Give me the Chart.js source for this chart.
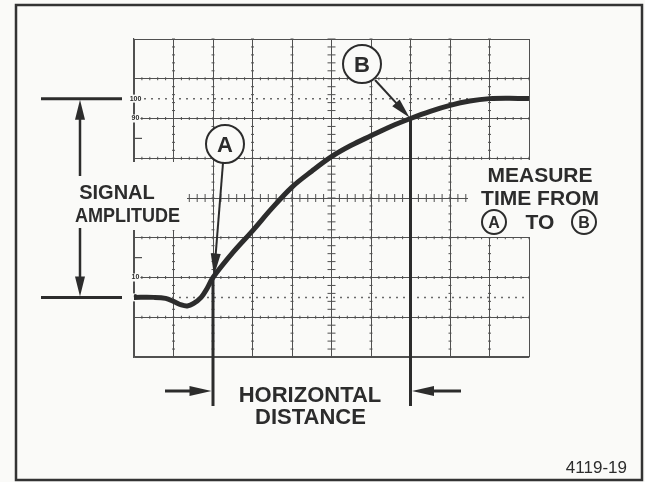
<!DOCTYPE html>
<html>
<head>
<meta charset="utf-8">
<script src="https://cdn.jsdelivr.net/npm/chart.js@4.4.1/dist/chart.umd.min.js"></script>
<style>
  html, body { margin: 0; padding: 0; background: #fafaf8; }
  canvas { display: block; }
</style>
</head>
<body>
<canvas id="scope" width="645" height="482"></canvas>
<script>
// trace: time in divisions, amplitude in % of the step
const timeDiv = [0, 0.5, 0.8, 1.0, 1.2, 1.35, 1.5, 1.7, 1.85, 2.0, 2.5, 3.0, 3.5, 4.0, 4.5, 5.0, 5.5, 6.0, 6.5, 7.0, 7.5, 8.0, 8.5, 9.0, 9.5, 10]
const amplitudePct = [0, 0, -0.5, -2, -3.8, -4.3, -3.2, 0, 4.5, 10, 22.5, 33.5, 45, 55.5, 63.5, 70.8, 76.5, 81.3, 86, 90, 93.6, 96.6, 98.8, 100, 100.2, 100]

// graticule: 10 x 8 divisions, 20% per vertical division
const ampGridTicks = [-30, -10, 10, 30, 50, 70, 90, 110, 130]
const refLevels = [0, 100]
const levelLabels = ["100", "90", "10", "0"]
const levelValues = [100, 90, 10, 0]
const sideMarks = [80, 20]

// 10% and 90% points
const markerA = 2
const markerB = 7
const markerALevel = 10
const markerBLevel = 90

const INK = "#2c2c2c"
const GRID = "#505050"
const PAPER = "#fafaf8"
const FONT = '"Liberation Sans", Arial, sans-serif'

function seg(ctx, x1, y1, x2, y2) {
  ctx.beginPath()
  ctx.moveTo(x1, y1)
  ctx.lineTo(x2, y2)
  ctx.stroke()
}

function head(ctx, x1, y1, x2, y2, len, half) {
  const a = Math.atan2(y2 - y1, x2 - x1)
  const bx = x2 - len * Math.cos(a)
  const by = y2 - len * Math.sin(a)
  ctx.beginPath()
  ctx.moveTo(x2, y2)
  ctx.lineTo(bx + half * Math.sin(a), by - half * Math.cos(a))
  ctx.lineTo(bx - half * Math.sin(a), by + half * Math.cos(a))
  ctx.closePath()
  ctx.fill()
}

function arrow(ctx, x1, y1, x2, y2, len, half, lw) {
  const a = Math.atan2(y2 - y1, x2 - x1)
  ctx.lineWidth = lw
  seg(ctx, x1, y1, x2 - len * 0.6 * Math.cos(a), y2 - len * 0.6 * Math.sin(a))
  head(ctx, x1, y1, x2, y2, len, half)
}

function text(ctx, str, x, y, size, weight, maxW, align) {
  ctx.font = `${weight} ${size}px ${FONT}`
  ctx.textAlign = align || "center"
  ctx.textBaseline = "alphabetic"
  if (maxW) ctx.fillText(str, x, y, maxW)
  else ctx.fillText(str, x, y)
}

function circled(ctx, letter, cx, cy, r, size, lw) {
  ctx.lineWidth = lw
  ctx.fillStyle = PAPER
  ctx.beginPath()
  ctx.arc(cx, cy, r, 0, Math.PI * 2)
  ctx.fill()
  ctx.stroke()
  ctx.fillStyle = INK
  text(ctx, letter, cx, cy + size * 0.36, size, "bold")
}

const graticule = {
  id: "graticule",
  beforeDraw(chart) {
    const ctx = chart.ctx
    ctx.save()
    ctx.fillStyle = PAPER
    ctx.fillRect(0, 0, chart.width, chart.height)
    ctx.restore()
  },
  beforeDatasetsDraw(chart) {
    const ctx = chart.ctx
    const xs = chart.scales.x
    const ys = chart.scales.y
    const { left, right } = chart.chartArea
    ctx.save()
    ctx.strokeStyle = GRID
    ctx.lineWidth = 1

    // minor ticks along inner graticule lines
    for (let i = 1; i < 10; i++) {
      const px = xs.getPixelForValue(i)
      const h = i === 5 ? 4 : 1.5
      for (let v = -30; v <= 130; v += 4) {
        const py = ys.getPixelForValue(v)
        seg(ctx, px - h, py, px + h, py)
      }
    }
    for (const t of ampGridTicks.slice(1, -1)) {
      const py = ys.getPixelForValue(t)
      const h = t === 50 ? 4 : 1.5
      for (let k = 0; k <= 50; k++) {
        const px = xs.getPixelForValue(k * 0.2)
        seg(ctx, px, py - h, px, py + h)
      }
    }

    // dotted 0% and 100% lines
    ctx.setLineDash([2, 5])
    ctx.lineWidth = 1.5
    ctx.strokeStyle = "#6a6a6a"
    for (const lv of refLevels) {
      const py = ys.getPixelForValue(lv)
      seg(ctx, left + 10, py, right, py)
    }
    ctx.setLineDash([])

    // short marks on left edge
    ctx.strokeStyle = GRID
    ctx.lineWidth = 1.2
    for (const lv of sideMarks) {
      const py = ys.getPixelForValue(lv)
      seg(ctx, left, py, left + 8, py)
    }

    // paper behind the text blocks
    ctx.fillStyle = PAPER
    ctx.fillRect(60, 162, 127, 68)
    ctx.fillRect(468, 160, 144, 77)

    // level labels on the left edge
    for (let i = 0; i < levelLabels.length; i++) {
      const py = ys.getPixelForValue(levelValues[i])
      ctx.font = `bold 7px ${FONT}`
      const w = ctx.measureText(levelLabels[i]).width
      ctx.fillStyle = PAPER
      ctx.fillRect(left + 1.5 - w / 2 - 1, py - 4, w + 2, 8)
      ctx.fillStyle = INK
      ctx.textAlign = "center"
      ctx.textBaseline = "middle"
      ctx.fillText(levelLabels[i], left + 1.5, py)
    }
    ctx.restore()
  },
  afterDatasetsDraw(chart) {
    const ctx = chart.ctx
    const xs = chart.scales.x
    const ys = chart.scales.y
    const ax = xs.getPixelForValue(markerA)
    const bx = xs.getPixelForValue(markerB)
    const y100 = ys.getPixelForValue(100)
    const y0 = ys.getPixelForValue(0)
    ctx.save()
    ctx.strokeStyle = INK
    ctx.fillStyle = INK
    ctx.lineCap = "butt"

    // measurement markers at 10% and 90%
    ctx.lineWidth = 3
    seg(ctx, ax, ys.getPixelForValue(markerALevel), ax, 406)
    seg(ctx, bx, ys.getPixelForValue(markerBLevel), bx, 406)

    // horizontal distance arrows
    arrow(ctx, 165, 391, ax - 1.5, 391, 22, 5, 3)
    arrow(ctx, 461, 391, bx + 1.5, 391, 22, 5, 3)

    // signal amplitude dimension
    ctx.lineWidth = 3
    seg(ctx, 41, y100, 122, y100)
    seg(ctx, 41, y0, 122, y0)
    arrow(ctx, 80, 176, 80, y100 + 1, 20, 5, 2.5)
    arrow(ctx, 80, 228, 80, y0 - 1, 20, 5, 2.5)

    // callouts
    arrow(ctx, 223, 163, ax + 1, ys.getPixelForValue(markerALevel) - 2, 22, 5, 2)
    arrow(ctx, 375, 80, bx - 1, ys.getPixelForValue(markerBLevel) - 1, 20, 5, 2)
    circled(ctx, "A", 225, 144, 19, 22, 2)
    circled(ctx, "B", 362, 64, 19, 22, 2)

    // text
    ctx.fillStyle = INK
    text(ctx, "SIGNAL", 117, 199, 20, "bold")
    text(ctx, "AMPLITUDE", 127.5, 222, 20, "bold", 105)
    text(ctx, "MEASURE", 540, 182, 21, "bold")
    text(ctx, "TIME FROM", 540, 205, 21, "bold", 126)
    text(ctx, "TO", 540, 229, 21, "bold")
    circled(ctx, "A", 494, 222, 12, 16, 2)
    circled(ctx, "B", 584, 222, 12, 16, 2)
    ctx.fillStyle = INK
    text(ctx, "HORIZONTAL", 310, 402, 22, "bold")
    text(ctx, "DISTANCE", 310.5, 424, 22, "bold")
    text(ctx, "4119-19", 627, 473, 17, "normal", null, "right")

    // frame
    ctx.strokeStyle = "#333"
    ctx.lineWidth = 2.5
    ctx.strokeRect(16, 5, 626, 475)
    ctx.restore()
  }
}

new Chart(document.getElementById("scope"), {
  type: "line",
  data: {
    datasets: [{
      data: timeDiv.map((t, i) => ({ x: t, y: amplitudePct[i] })),
      borderColor: INK,
      borderWidth: 5,
      pointRadius: 0,
      tension: 0.35,
      fill: false
    }]
  },
  options: {
    responsive: false,
    animation: false,
    events: [],
    layout: { padding: { left: 134, top: 39, right: 116, bottom: 125 } },
    plugins: { legend: { display: false }, tooltip: { enabled: false } },
    scales: {
      x: {
        type: "linear",
        min: 0,
        max: 10,
        ticks: { display: false, stepSize: 1 },
        grid: { color: GRID, lineWidth: 1, drawTicks: false },
        border: { color: GRID, width: 1.2 }
      },
      y: {
        type: "linear",
        min: -30,
        max: 130,
        afterBuildTicks: (axis) => { axis.ticks = ampGridTicks.map(v => ({ value: v })) },
        ticks: { display: false },
        grid: { color: GRID, lineWidth: 1, drawTicks: false },
        border: { color: GRID, width: 1.2 }
      }
    }
  },
  plugins: [graticule]
})
</script>
</body>
</html>
